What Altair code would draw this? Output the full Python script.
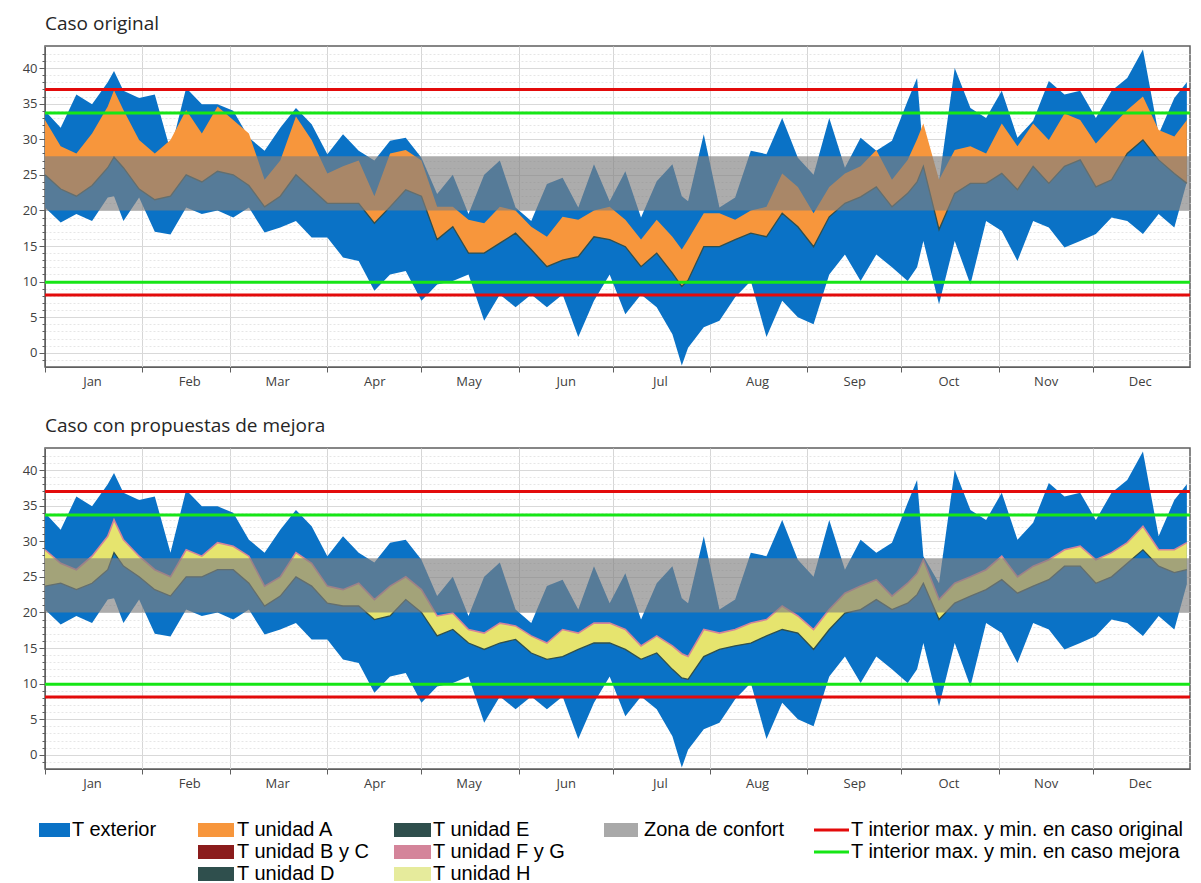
import json
import altair as alt
import pandas as pd

# ---------------- data ----------------
days = [0, 5, 10, 15, 20, 22, 25, 30, 35, 40, 45, 50, 55, 60, 65, 70, 75, 80, 85, 90,
        95, 100, 105, 110, 115, 120, 125, 130, 135, 140, 145, 150, 155, 160, 165, 170,
        175, 180, 185, 190, 195, 200, 203, 205, 210, 215, 220, 225, 230, 235, 240, 245,
        250, 255, 260, 265, 270, 275, 278, 280, 285, 290, 295, 300, 305, 310, 315, 320,
        325, 330, 335, 340, 345, 350, 355, 360, 364]

# T exterior: upper / lower envelope
ext_hi = [34, 31.6, 36.3, 34.9, 38, 39.6, 36.8, 35.8, 36.3, 28.4, 37.2, 34.9, 34.9, 34, 30.2, 28.4,
          31.6, 34.4, 32.1, 27.9, 30.7, 28.4, 27, 29.8, 30.2, 27.4, 22.3, 25, 19.5, 25, 27, 20.4,
          18.5, 23.7, 24.6, 20.4, 26.5, 21.3, 25.5, 19, 24.1, 26.5, 22, 21.3, 30.7, 20.4, 21.8,
          28.4, 27.9, 33, 27.4, 25, 33, 26, 30.2, 28.4, 29.8, 35.4, 38.6, 27.9, 24.1, 40, 34.4,
          33, 36.8, 30.2, 32.6, 38.2, 36.3, 36.8, 33, 36.8, 38.6, 42.6, 30.7, 35.8, 38]
ext_lo = [20.4, 18.3, 19.5, 18.5, 21.8, 22, 18.5, 21.8, 17, 16.6, 20.4, 19.5, 20, 19, 20.4, 16.9,
          17.6, 18.5, 16.2, 16.2, 13.4, 12.9, 8.7, 11, 11.5, 7.3, 9.6, 10.1, 11, 4.5, 8.2, 6.4,
          8.2, 6.4, 8.2, 2.2, 7.3, 11, 5.4, 8.2, 6.4, 2.6, -1.8, 0.7, 3.6, 4.5, 7.8, 10.1, 2.2,
          7.3, 5, 4, 11, 13.8, 10.1, 13.8, 12, 10.1, 12, 15.7, 6.8, 15.7, 9.6, 18.5, 17.1, 12.9,
          18.5, 17.6, 14.8, 15.7, 16.7, 19, 18.5, 16.7, 19.5, 17.6, 24]

# Caso original: T unidad A (upper / lower)
a_hi = [32.7, 29, 28, 30.8, 34.6, 36.9, 34.1, 29.9, 28, 29.9, 34.1, 30.8, 34.6, 32.7, 30.8, 24.3,
        27, 33.2, 29.9, 25.2, 26.2, 27, 22, 28, 28.5, 27, 20.5, 20.5, 18.7, 18.2, 20.5, 20,
        17.7, 16.3, 19.1, 18.7, 20, 20.5, 18.7, 15.9, 18.7, 16.3, 14.5, 15.9, 19.6, 19.6, 18.7,
        20, 20.5, 25.2, 23.3, 19.6, 23.3, 25.2, 26.2, 28.5, 24.3, 27.1, 30, 32.2, 24.3, 28.5,
        29, 28, 32.2, 29, 32.2, 29.9, 33.6, 32.7, 29.4, 31.8, 34.1, 36, 31.3, 30.4, 32.7]
a_lo = [25, 23, 22, 23.5, 26, 27.5, 26, 23, 21.5, 22, 25, 24, 25.5, 25, 23.5, 20.5,
        22, 25, 23, 21, 21, 21, 18.2, 20.5, 22.9, 22, 15.9, 17.7, 14, 14, 15.4, 16.8,
        14.5, 12.1, 13, 13.5, 16.3, 15.9, 14.9, 12.1, 14, 11.2, 9.3, 10.2, 14.9, 14.9, 15.9,
        16.8, 16.3, 19.6, 17.7, 14.9, 19.1, 21, 21.9, 23.3, 20.5, 22.4, 24, 26.2, 17.3, 22.4,
        23.8, 23.8, 25.2, 22.9, 26.2, 23.8, 26.2, 27.1, 23.3, 24.3, 28, 29.9, 27.1, 25.2, 23.8]

# Caso con propuestas de mejora: T unidad H (upper / lower)
h_hi = [28.8, 26.9, 26, 27.9, 30.7, 33, 30.2, 27.9, 26, 25, 28.8, 27.9, 29.8, 29.3, 27.9, 23.7,
        25, 28.4, 26.9, 23.7, 23.2, 24.1, 21.8, 23.7, 25, 23.2, 19.5, 19.9, 17.6, 17.1, 18.5,
        18.1, 16.7, 15.7, 17.6, 17.1, 18.5, 18.5, 17.6, 15.3, 16.7, 15.3, 14.2, 13.8, 17.6,
        17.1, 17.6, 18.5, 19, 20.9, 19.5, 17.6, 20.4, 22.7, 23.7, 24.6, 22.3, 24.1, 25.5, 27.4,
        21.8, 24.1, 25, 26, 27.9, 25, 26.5, 27.4, 28.8, 29.3, 27.4, 28.4, 29.8, 32.1, 28.8,
        28.8, 29.8]
h_lo = [23.7, 24.1, 23.2, 24.1, 26, 28.4, 26.5, 25, 23.2, 22.3, 25, 25, 26, 26, 24.1, 20.9,
        22.3, 25, 23.7, 21.3, 20.9, 20.9, 19, 19.5, 21.8, 20, 16.7, 17.6, 15.7, 14.8, 15.7,
        16.2, 14.3, 13.4, 13.8, 14.8, 15.7, 15.7, 14.8, 13.4, 14.3, 12, 10.8, 10.6, 13.8, 14.8,
        15.3, 15.7, 16.7, 17.6, 17.1, 14.8, 17.6, 19.9, 20.4, 21.8, 20.4, 21.3, 22.5, 24.1, 19,
        21.3, 22.3, 23.2, 24.6, 22.7, 23.7, 24.6, 26.5, 26.5, 24.1, 25, 26.9, 28.8, 26.5, 25.6, 26]

comfort_zone = [20.0, 27.6]
year_span = [0, 365]
lim_original = [37.0, 8.1]
lim_mejora = [33.7, 9.9]

month_starts = [0, 31, 59, 90, 120, 151, 181, 212, 243, 273, 304, 334]
month_names = ["Jan", "Feb", "Mar", "Apr", "May", "Jun", "Jul", "Aug", "Sep", "Oct", "Nov", "Dec"]

legend_labels = ["T exterior", "T unidad A", "T unidad B y C", "T unidad D", "T unidad E",
                 "T unidad F y G", "T unidad H", "Zona de confort",
                 "T interior max. y min. en caso original", "T interior max. y min. en caso mejora"]
legend_group = [0, 1, 1, 1, 2, 2, 2, 3, 4, 4]
legend_row = [0, 0, 1, 2, 0, 1, 2, 0, 0, 1]

# ---------------- styles ----------------
BLUE = "#0a72c6"
ORANGE = "#f7963c"
DARKRED = "#8b1c1c"
SLATE = "#2f4f4d"
PINK = "#d4849a"
YELLOW = "#e6e46e"
GRAYLEG = "#a9a9a9"
RED = "#e30b0b"
GREEN = "#16e616"
legend_colors = [BLUE, ORANGE, DARKRED, SLATE, SLATE, PINK, "#e6eb9c", GRAYLEG, RED, GREEN]
# legend column geometry (pixels relative to plot left): swatch start, swatch end, text x, thickness
legend_cols = [(-6, 25, 27, 14), (153, 189, 192, 14), (349, 386, 388, 14),
               (559, 593, 599, 14), (769, 804, 806, 3)]

W, H = 1145, 321
LH = 60
ROW0, ROWSTEP = 11, 22

df = pd.DataFrame({"day": days, "ext_hi": ext_hi, "ext_lo": ext_lo, "a_hi": a_hi, "a_lo": a_lo,
                   "h_hi": h_hi, "h_lo": h_lo})
comfort_df = pd.DataFrame({"x0": [year_span[0]], "x1": [year_span[1]],
                           "lo": [comfort_zone[0]], "hi": [comfort_zone[1]]})
orig_df = pd.DataFrame({"value": lim_original})
mej_df = pd.DataFrame({"value": lim_mejora})
legend_df = pd.DataFrame({"label": legend_labels, "group": legend_group, "row": legend_row})

label_expr = "%s[indexof(%s, datum.value)]" % (json.dumps(month_names), json.dumps(month_starts))
major = "datum.value % 5 === 0"

xaxis = alt.Axis(values=month_starts, labelExpr=label_expr, labelOffset=47, labelFlush=False,
                 labelOverlap=False, title=None, grid=True, gridColor="#d6d6d6", tickSize=5,
                 labelPadding=3, minExtent=24, maxExtent=24)
yaxis = alt.Axis(values=list(range(-1, 43)),
                 labelExpr="(%s && datum.value >= 0 && datum.value <= 40) ? datum.label : ''" % major,
                 labelOverlap=False, title=None, grid=True,
                 gridColor={"condition": {"test": major, "value": "#d9d9d9"}, "value": "#e6e6e6"},
                 gridDash={"condition": {"test": major, "value": []}, "value": [2, 2]},
                 tickSize={"condition": {"test": major, "value": 6}, "value": 3},
                 labelPadding=2, minExtent=36, maxExtent=36)
xscale = alt.Scale(domain=[0, 365], nice=False, zero=False)
yscale = alt.Scale(domain=[-2, 43.1], nice=False, zero=False)


def X(f):
    return alt.X(f, type="quantitative", scale=xscale, axis=xaxis)


def Y(f):
    return alt.Y(f, type="quantitative", scale=yscale, axis=yaxis)


def panel(title, hi, lo, fill, top_line, bottom_line):
    base = alt.Chart(df)
    ext = base.mark_area(color=BLUE, opacity=1, clip=True).encode(x=X("day"), y=Y("ext_hi"), y2="ext_lo")
    inner = base.mark_area(color=fill, opacity=1, clip=True).encode(x=X("day"), y=Y(hi), y2=lo)
    layers = [ext, inner]
    if top_line:
        layers.append(base.mark_line(color=top_line, strokeWidth=1.6, clip=True).encode(
            x=X("day"), y=Y(hi)))
    layers.append(base.mark_line(color=bottom_line, strokeWidth=1.3, clip=True).encode(
        x=X("day"), y=Y(lo)))
    comfort = alt.Chart(comfort_df).mark_rect(color="#808080", opacity=0.65).encode(
        x=X("x0"), x2="x1", y=Y("lo"), y2="hi")
    r1 = alt.Chart(orig_df).mark_rule(color=RED, strokeWidth=3).encode(y=Y("value"))
    r2 = alt.Chart(mej_df).mark_rule(color=GREEN, strokeWidth=3).encode(y=Y("value"))
    return alt.layer(*layers, comfort, r1, r2).properties(
        width=W, height=H,
        title=alt.TitleParams(title, anchor="start", frame="group", fontSize=19, font="Open Sans",
                              fontWeight="normal", color="#262626", offset=12))


top = panel("Caso original", "a_hi", "a_lo", ORANGE, None, SLATE)
bottom = panel("Caso con propuestas de mejora", "h_hi", "h_lo", YELLOW, PINK, SLATE)

ly = alt.Y("row:Q", scale=alt.Scale(domain=[-ROW0 / ROWSTEP, (LH - ROW0) / ROWSTEP], reverse=True,
                                    nice=False, zero=False), axis=None)
lcolor = alt.Color("label:N", scale=alt.Scale(domain=legend_labels, range=legend_colors), legend=None)

legend_layers = []
for g, (x0, x1, xt, sw) in enumerate(legend_cols):
    d = legend_df[legend_df["group"] == g]
    legend_layers.append(alt.Chart(d).mark_rule(strokeWidth=sw, strokeCap="butt").encode(
        x=alt.value(x0), x2=alt.value(x1), y=ly, color=lcolor))
    legend_layers.append(alt.Chart(d).mark_text(
        align="left", baseline="middle", font="Liberation Sans", fontSize=20, color="black").encode(
        x=alt.value(xt), y=ly, text="label:N"))
legend = alt.layer(*legend_layers).properties(width=W, height=LH,
                                              view=alt.ViewBackground(stroke="transparent"))

chart = alt.vconcat(top, bottom, legend, spacing=24).properties(
    padding={"left": 0, "right": 0, "top": 6, "bottom": 0}
).configure_view(
    stroke="#5f5f5f", strokeWidth=1.5
).configure_axis(
    domainColor="#5f5f5f", tickColor="#5f5f5f", labelColor="#404040",
    labelFont="Open Sans", labelFontSize=13
)

chart.save("out.html", embed_options={"renderer": "svg", "actions": False})
